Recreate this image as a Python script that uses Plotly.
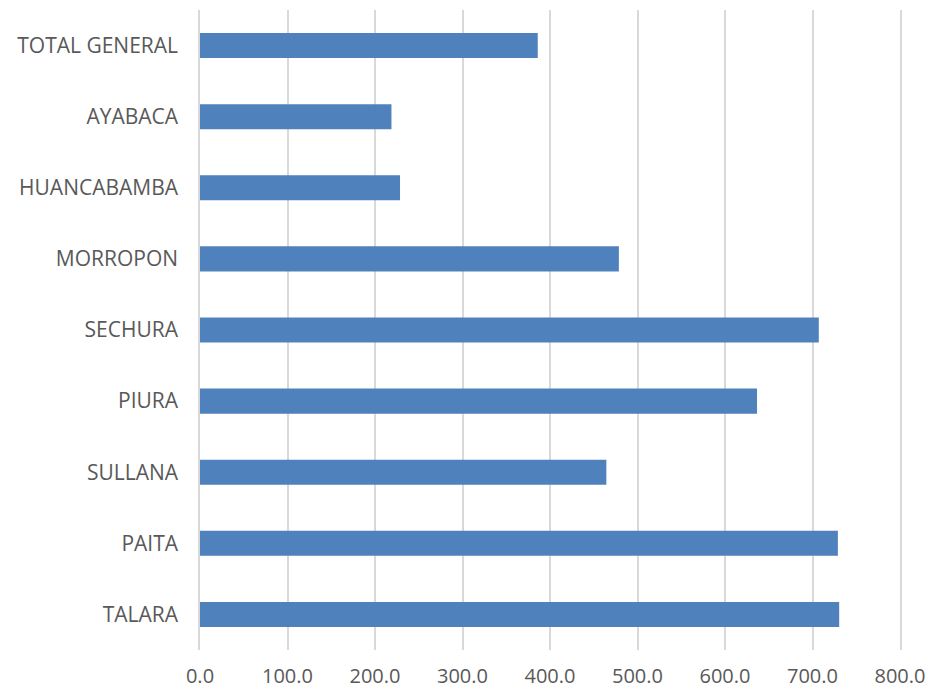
import plotly.graph_objects as go

categories = ["TALARA", "PAITA", "SULLANA", "PIURA", "SECHURA",
              "MORROPON", "HUANCABAMBA", "AYABACA", "TOTAL GENERAL"]
values = [730.5, 729.0, 464.4, 636.6, 707.2, 478.7, 228.6, 218.8, 386.0]
tick_vals = [0, 100, 200, 300, 400, 500, 600, 700, 800]
tick_text = ["0.0", "100.0", "200.0", "300.0", "400.0", "500.0", "600.0", "700.0", "800.0"]

fig = go.Figure(go.Bar(
    y=categories, x=values, orientation="h",
    marker=dict(color="#4F81BD", line=dict(width=0)),
))

font_family = "Open Sans, Liberation Sans, sans-serif"
fig.update_layout(
    width=930, height=690,
    margin=dict(l=200, r=30, t=10, b=40, autoexpand=False),
    paper_bgcolor="white", plot_bgcolor="white",
    bargap=0.648,
    showlegend=False,
    font=dict(family=font_family, size=21, color="#595959"),
)
fig.update_xaxes(
    range=[0, 800], tickvals=tick_vals, ticktext=tick_text,
    showgrid=True, gridcolor="#D9D9D9", gridwidth=1.5,
    zeroline=False, showline=False, ticks="",
    ticklabelstandoff=12, automargin=False,
    tickfont=dict(size=20, color="#595959"),
)
fig.update_yaxes(
    categoryorder="array", categoryarray=categories,
    showgrid=False, zeroline=False,
    showline=True, mirror=True, linecolor="#D9D9D9", linewidth=1.5,
    ticks="", ticklabelstandoff=16, automargin=False,
    tickfont=dict(size=21, color="#595959"),
)
fig.write_html(
    "out.html",
    config={"displayModeBar": False},
    post_script="document.body.style.margin='0';document.body.style.overflow='hidden';",
)
